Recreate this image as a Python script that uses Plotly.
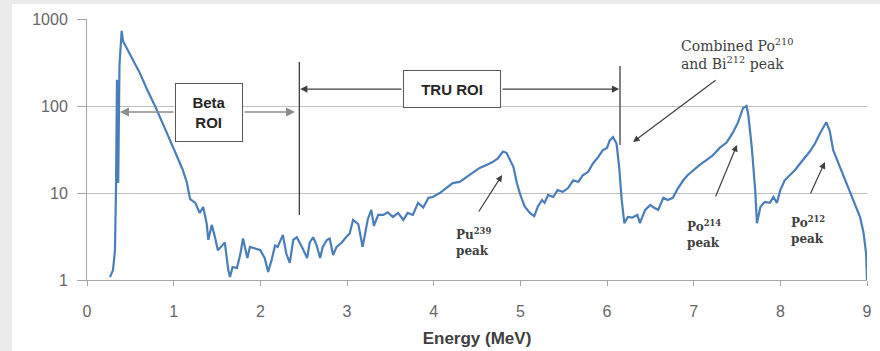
import plotly.graph_objects as go

energy = [0.265, 0.30, 0.323, 0.335, 0.346, 0.36, 0.375, 0.40, 0.415, 0.45,
          0.50, 0.60, 0.70, 0.785, 0.90, 1.00, 1.10, 1.15, 1.19, 1.25,
          1.30, 1.34, 1.38, 1.40, 1.44, 1.48, 1.51, 1.56, 1.59, 1.63,
          1.65, 1.68, 1.73, 1.77, 1.80, 1.85, 1.88, 1.94, 2.00, 2.05,
          2.09, 2.13, 2.17, 2.20, 2.26, 2.30, 2.34, 2.38, 2.42, 2.48,
          2.54, 2.57, 2.61, 2.65, 2.69, 2.72, 2.77, 2.80, 2.84, 2.88,
          2.94, 3.00, 3.03, 3.07, 3.11, 3.13, 3.18, 3.24, 3.28, 3.31,
          3.36, 3.42, 3.47, 3.53, 3.59, 3.65, 3.70, 3.76, 3.82, 3.88,
          3.94, 3.99, 4.07, 4.15, 4.22, 4.30, 4.38, 4.45, 4.53, 4.61,
          4.68, 4.74, 4.80, 4.84, 4.88, 4.92, 4.96, 5.00, 5.05, 5.11,
          5.16, 5.20, 5.25, 5.28, 5.32, 5.38, 5.43, 5.49, 5.55, 5.61,
          5.67, 5.72, 5.78, 5.84, 5.90, 5.95, 6.00, 6.03, 6.07, 6.11,
          6.14, 6.17, 6.20, 6.24, 6.29, 6.35, 6.38, 6.44, 6.50, 6.53,
          6.59, 6.65, 6.70, 6.76, 6.82, 6.88, 6.93, 6.99, 7.07, 7.15,
          7.22, 7.30, 7.38, 7.45, 7.51, 7.57, 7.61, 7.63, 7.67, 7.71,
          7.73, 7.77, 7.82, 7.88, 7.92, 7.96, 8.00, 8.05, 8.11, 8.17,
          8.23, 8.28, 8.34, 8.40, 8.46, 8.53, 8.57, 8.61, 8.67, 8.72,
          8.78, 8.84, 8.92, 8.96, 8.99, 9.00]
counts = [1.08, 1.3, 2.2, 12, 200, 13, 300, 730, 560, 480,
          380, 250, 150, 100, 55, 33, 19, 13.5, 8.5, 7.7,
          5.9, 6.9, 4.5, 2.9, 4.3, 3.0, 2.2, 2.5, 2.7, 1.30,
          1.08, 1.41, 1.37, 2.0, 3.0, 1.79, 2.4, 2.3, 2.2, 1.79,
          1.24, 1.70, 2.5, 2.4, 3.3, 2.0, 1.57, 2.9, 3.1, 2.4,
          1.79, 2.7, 3.1, 2.5, 1.79, 2.4, 2.9, 3.0, 1.94, 2.4,
          2.7, 3.2, 3.4, 4.9, 4.5, 4.4, 2.4, 5.0, 6.4, 4.2,
          5.6, 5.6, 6.0, 5.3, 5.9, 4.9, 5.9, 5.6, 7.7, 6.8,
          8.8, 9.0, 10, 11.4, 13, 13.4, 15.3, 17.4, 19.4, 21,
          22.7, 25, 30, 29, 24, 20, 13, 9.5, 7.0, 5.9,
          5.4, 6.9, 8.3, 7.7, 9.5, 9.0, 10.8, 10.3, 11.4, 14,
          13.4, 16, 17.4, 22, 26, 31, 33, 40, 44, 37,
          20, 8.3, 4.5, 5.3, 5.2, 5.6, 4.5, 6.4, 7.3, 6.9,
          6.4, 8.8, 8.3, 8.8, 11.4, 14, 16, 18, 21, 24,
          27, 33, 38, 49, 64, 95, 100, 80, 34, 10.8,
          4.5, 6.9, 7.9, 7.7, 9.0, 7.7, 10.8, 14, 16, 18.4,
          22, 25, 30, 37, 49, 65, 52, 31, 22, 17,
          11.7, 8.3, 5.3, 3.5, 2.0, 1.0]

x_ticks = [0, 1, 2, 3, 4, 5, 6, 7, 8, 9]
y_ticks = [1, 10, 100, 1000]
y_ticktext = ["1", "10", "100", "1000"]

fig = go.Figure()
fig.add_trace(go.Scatter(x=energy, y=counts, mode="lines",
                         line=dict(color="#4a7ebb", width=2.2), showlegend=False))

tick_font = dict(family="Liberation Sans, Arial, sans-serif", size=16, color="#666666")
lab_font = dict(family="DejaVu Serif, serif", size=12, color="#404040")
comb_font = dict(family="DejaVu Serif, serif", size=14, color="#404040")
box_font = dict(family="Liberation Sans, Arial, sans-serif", size=15, color="#262626")

# white panel over gray page
fig.add_shape(type="rect", xref="paper", yref="paper", x0=-0.0962, x1=1.02,
              y0=-0.30, y1=1.0575, fillcolor="white", line_width=0, layer="below")

# ROI boundary lines
fig.add_shape(type="line", xref="x", yref="y", x0=2.45, x1=2.45, y0=5.6, y1=321,
              line=dict(color="#404040", width=1.3))
fig.add_shape(type="line", xref="x", yref="y", x0=6.15, x1=6.15, y0=35.6, y1=288,
              line=dict(color="#404040", width=1.3))

ann = []
# TRU ROI box + arrows
ann.append(dict(x=4.21, y=2.195, xref="x", yref="y", text="<b>TRU ROI</b>", showarrow=False,
                font=box_font, bgcolor="white", bordercolor="#595959", borderwidth=1,
                width=94, height=34, borderpad=1))
for hx, tx in [(2.46, 3.646), (6.14, 4.777)]:
    ann.append(dict(x=hx, y=2.195, ax=tx, ay=2.195, xref="x", yref="y", axref="x", ayref="y",
                    text="", showarrow=True, arrowhead=2, arrowsize=1.2, arrowwidth=1.2,
                    arrowcolor="#404040", standoff=0, startstandoff=0))
# Beta ROI box + arrows
ann.append(dict(x=1.41, y=1.925, xref="x", yref="y", text="<b>Beta<br>ROI</b>", showarrow=False,
                font=box_font, bgcolor="white", bordercolor="#595959", borderwidth=1,
                width=64, height=55, borderpad=1, align="center"))
for hx, tx in [(0.38, 1.015), (2.40, 1.80)]:
    ann.append(dict(x=hx, y=1.931, ax=tx, ay=1.931, xref="x", yref="y", axref="x", ayref="y",
                    text="", showarrow=True, arrowhead=2, arrowsize=1.2, arrowwidth=1.5,
                    arrowcolor="#8c8c8c", standoff=0, startstandoff=0))
# Peak labels
ann.append(dict(x=6.83, y=2.603, xref="x", yref="y", xanchor="left",
                text="Combined Po<sup>210</sup><br>and Bi<sup>212</sup> peak",
                showarrow=False, font=comb_font, align="left"))
ann.append(dict(x=4.454, y=0.437, xref="x", yref="y", text="<b>Pu<sup>239</sup><br>peak</b>",
                showarrow=False, font=lab_font, align="left"))
ann.append(dict(x=7.12, y=0.529, xref="x", yref="y", text="<b>Po<sup>214</sup><br>peak</b>",
                showarrow=False, font=lab_font, align="left"))
ann.append(dict(x=8.32, y=0.575, xref="x", yref="y", text="<b>Po<sup>212</sup><br>peak</b>",
                showarrow=False, font=lab_font, align="left"))
for hx, hy, tx, ty in [(6.30, 1.586, 7.27, 2.31), (4.79, 1.207, 4.51, 0.770),
                       (7.50, 1.552, 7.246, 0.943), (8.515, 1.356, 8.34, 0.977)]:
    ann.append(dict(x=hx, y=hy, ax=tx, ay=ty, xref="x", yref="y", axref="x", ayref="y",
                    text="", showarrow=True, arrowhead=2, arrowsize=1.1, arrowwidth=1.2,
                    arrowcolor="#404040", standoff=0, startstandoff=0))

fig.update_layout(
    width=880, height=351,
    margin=dict(l=87, r=13, t=19, b=71),
    paper_bgcolor="#ebebeb", plot_bgcolor="white",
    annotations=ann,
    xaxis=dict(range=[0, 9], tickvals=x_ticks, showgrid=False, zeroline=False,
               showline=True, linecolor="#a6a6a6", linewidth=1, automargin=False,
               ticks="outside", ticklen=5, tickcolor="#a6a6a6", tickfont=tick_font,
               ticklabelstandoff=12,
               title=dict(text="<b>Energy (MeV)</b>", standoff=12,
                          font=dict(family="Liberation Sans, Arial, sans-serif", size=17, color="#404040"))),
    yaxis=dict(type="log", range=[0, 3], tickvals=y_ticks, ticktext=y_ticktext,
               showgrid=True, gridcolor="#bfbfbf", gridwidth=1, zeroline=False,
               showline=True, linecolor="#a6a6a6", linewidth=1, automargin=False,
               ticks="outside", ticklen=9, tickcolor="#a6a6a6", tickfont=tick_font,
               ticklabelstandoff=6),
)

fig.write_html("out.html", config={"displayModeBar": False},
               post_script="document.body.style.margin='0';document.body.style.background='#ebebeb';")
